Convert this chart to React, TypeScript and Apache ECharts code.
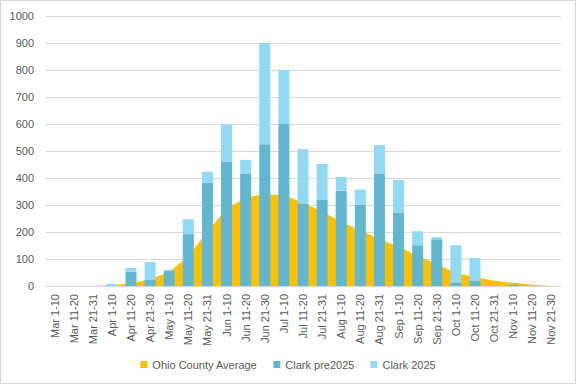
import React, { useEffect, useRef } from "react";
import * as echarts from "echarts";

const categories = [
  "Mar 1-10", "Mar 11-20", "Mar 21-31", "Apr 1-10", "Apr 11-20", "Apr 21-30",
  "May 1-10", "May 11-20", "May 21-31", "Jun 1-10", "Jun 11-20", "Jun 21-30",
  "Jul 1-10", "Jul 11-20", "Jul 21-31", "Aug 1-10", "Aug 11-20", "Aug 21-31",
  "Sep 1-10", "Sep 11-20", "Sep 21-30", "Oct 1-10", "Oct 11-20", "Oct 21-31",
  "Nov 1-10", "Nov 11-20", "Nov 21-30",
];

const ohioCountyAverage = [
  0, 0, 0, 4, 9, 25, 52, 110, 202, 285, 328, 340, 336, 309, 275, 238, 206, 173,
  145, 112, 81, 48, 33, 19, 12, 5, 0,
];

const clarkPre2025 = [
  0, 0, 0, 0, 53, 23, 57, 192, 382, 459, 415, 525, 600, 305, 320, 353, 302, 415,
  272, 151, 173, 12, 19, 0, 5, 0, 0,
];

// portion stacked on top of pre2025 (total height minus pre2025)
const clark2025 = [
  0, 0, 0, 8, 14, 66, 3, 55, 41, 140, 52, 375, 200, 202, 132, 51, 55, 107,
  121, 52, 8, 139, 85, 0, 0, 0, 0,
];

const yTicks = { min: 0, max: 1000, interval: 100 };

const FONT = "'Liberation Sans', Arial, sans-serif";
const TEXT = "#595959";

export default function App() {
  const ref = useRef<HTMLDivElement>(null);
  useEffect(() => {
    if (!ref.current) return;
    const chart = echarts.init(ref.current, undefined, { renderer: "svg" });
    chart.setOption({
      animation: false,
      backgroundColor: "#ffffff",
      textStyle: { fontFamily: FONT },
      grid: { left: 44, right: 14, top: 15, bottom: 97, containLabel: false },
      legend: {
        bottom: 8,
        left: "center",
        icon: "rect",
        itemWidth: 7,
        itemHeight: 7,
        itemGap: 16,
        textStyle: { color: TEXT, fontSize: 11, fontFamily: FONT },
        data: ["Ohio County Average", "Clark pre2025", "Clark 2025"],
      },
      xAxis: {
        type: "category",
        data: categories,
        boundaryGap: true,
        axisLine: { show: true, lineStyle: { color: "#D9D9D9", width: 1 } },
        axisTick: { show: false },
        axisLabel: {
          rotate: 90,
          interval: 0,
          color: TEXT,
          fontSize: 11,
          fontFamily: FONT,
          margin: 8,
        },
      },
      yAxis: {
        type: "value",
        min: yTicks.min,
        max: yTicks.max,
        interval: yTicks.interval,
        axisLine: { show: false },
        axisTick: { show: false },
        axisLabel: {
          color: TEXT,
          fontSize: 11,
          fontFamily: FONT,
          margin: 11,
          formatter: (v: number) => String(v),
        },
        splitLine: { lineStyle: { color: "#D9D9D9", width: 1 } },
      },
      series: [
        {
          name: "Ohio County Average",
          type: "line",
          data: ohioCountyAverage,
          showSymbol: false,
          symbol: "rect",
          itemStyle: { color: "#FFC000" },
          lineStyle: { width: 0, color: "#FFC000" },
          areaStyle: { color: "#FFC000", opacity: 1 },
          z: 1,
        },
        {
          name: "Clark pre2025",
          type: "bar",
          stack: "clark",
          data: clarkPre2025,
          barWidth: 11,
          itemStyle: { color: "#63B6CF" },
          z: 3,
        },
        {
          name: "Clark 2025",
          type: "bar",
          stack: "clark",
          data: clark2025,
          barWidth: 11,
          itemStyle: { color: "#92D9F4" },
          z: 3,
        },
      ],
    });
    return () => chart.dispose();
  }, []);
  return (
    <div
      ref={ref}
      style={{
        width: 576,
        height: 384,
        position: "fixed",
        left: 0,
        top: 0,
        boxSizing: "border-box",
        border: "1px solid #D9D9D9",
        background: "#fff",
      }}
    />
  );
}
